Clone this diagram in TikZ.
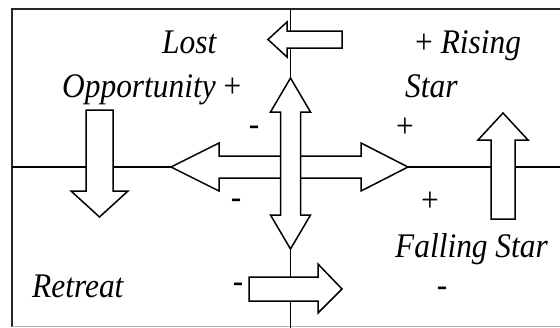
\documentclass[tikz,border=0pt]{standalone}
\usepackage{fontspec}
\setmainfont{Liberation Serif}
\newfontfamily\lblfont[FakeStretch=0.91]{Liberation Serif}
\begin{document}
\begin{tikzpicture}[x=1pt,y=-1pt,
  arrowshape/.style={draw=black,fill=white,line width=1.5pt,line join=miter},
  axis/.style={draw=black,line width=1.4pt},
  frame/.style={draw=black!85,line width=2pt},
  lbl/.style={font=\lblfont\fontsize{34.5}{36}\selectfont\itshape,anchor=base west,inner sep=0pt},
  sgn/.style={font=\lblfont\fontsize{34.5}{36}\selectfont,inner sep=0pt}]
\useasboundingbox (0,0) rectangle (560,327);
\clip (0,0) rectangle (560,327);
% frame
\draw[frame] (12,326.5) -- (12,9) -- (600,9);
\draw[draw=black!30,line width=1pt] (12,326.8) -- (600,326.8);
% axes
\coordinate (L) at (12,167);
\coordinate (R) at (600,167);
\coordinate (T) at (290.5,9);
\coordinate (B) at (290.5,340);
\draw[axis] (L) -- (R);
\draw[axis] (T) -- (B);
% horizontal double arrow
\draw[arrowshape] (171,167) -- (219,143) -- (219,156) -- (361,156) -- (361,143) -- (408,167)
  -- (361,191) -- (361,178) -- (219,178) -- (219,191) -- cycle;
% vertical double arrow
\draw[arrowshape] (290.5,78) -- (310.5,112) -- (300.5,112) -- (300.5,215) -- (310.5,215) -- (290.5,249)
  -- (270.5,215) -- (280.5,215) -- (280.5,112) -- (270.5,112) -- cycle;
% top arrow (pointing left)
\draw[arrowshape] (268,39.5) -- (287,22) -- (287,31) -- (342,31) -- (342,48) -- (287,48) -- (287,57) -- cycle;
% bottom arrow (pointing right)
\draw[arrowshape] (249,277) -- (318,277) -- (318,264) -- (342,289) -- (318,313) -- (318,301) -- (249,301) -- cycle;
% left down arrow
\draw[arrowshape] (86,110) -- (113,110) -- (113,191) -- (128,191) -- (99.5,217) -- (71,191) -- (86,191) -- cycle;
% right up arrow
\draw[arrowshape] (503,113) -- (528,140) -- (515,140) -- (515,219) -- (491,219) -- (491,140) -- (478,140) -- cycle;
% labels
\node[lbl] (lost) at (162,53) {Lost};
\node[lbl] (opp) at (62,97) {Opportunity\upshape\ +};
\node[lbl] (rising) at (415,53) {{\upshape +} Rising};
\node[lbl] (star) at (405,97) {Star};
\node[lbl] (falling) at (395,257) {Falling Star};
\node[lbl] (retreat) at (32,297) {Retreat};
\node[sgn] (p1) at (405,128) {+};
\node[sgn] (p2) at (430,202) {+};
\node[sgn] (m1) at (254,131) {-};
\node[sgn] (m2) at (236,204) {-};
\node[sgn] (m3) at (238,288) {-};
\node[sgn] (m4) at (442,292) {-};
\end{tikzpicture}
\end{document}
